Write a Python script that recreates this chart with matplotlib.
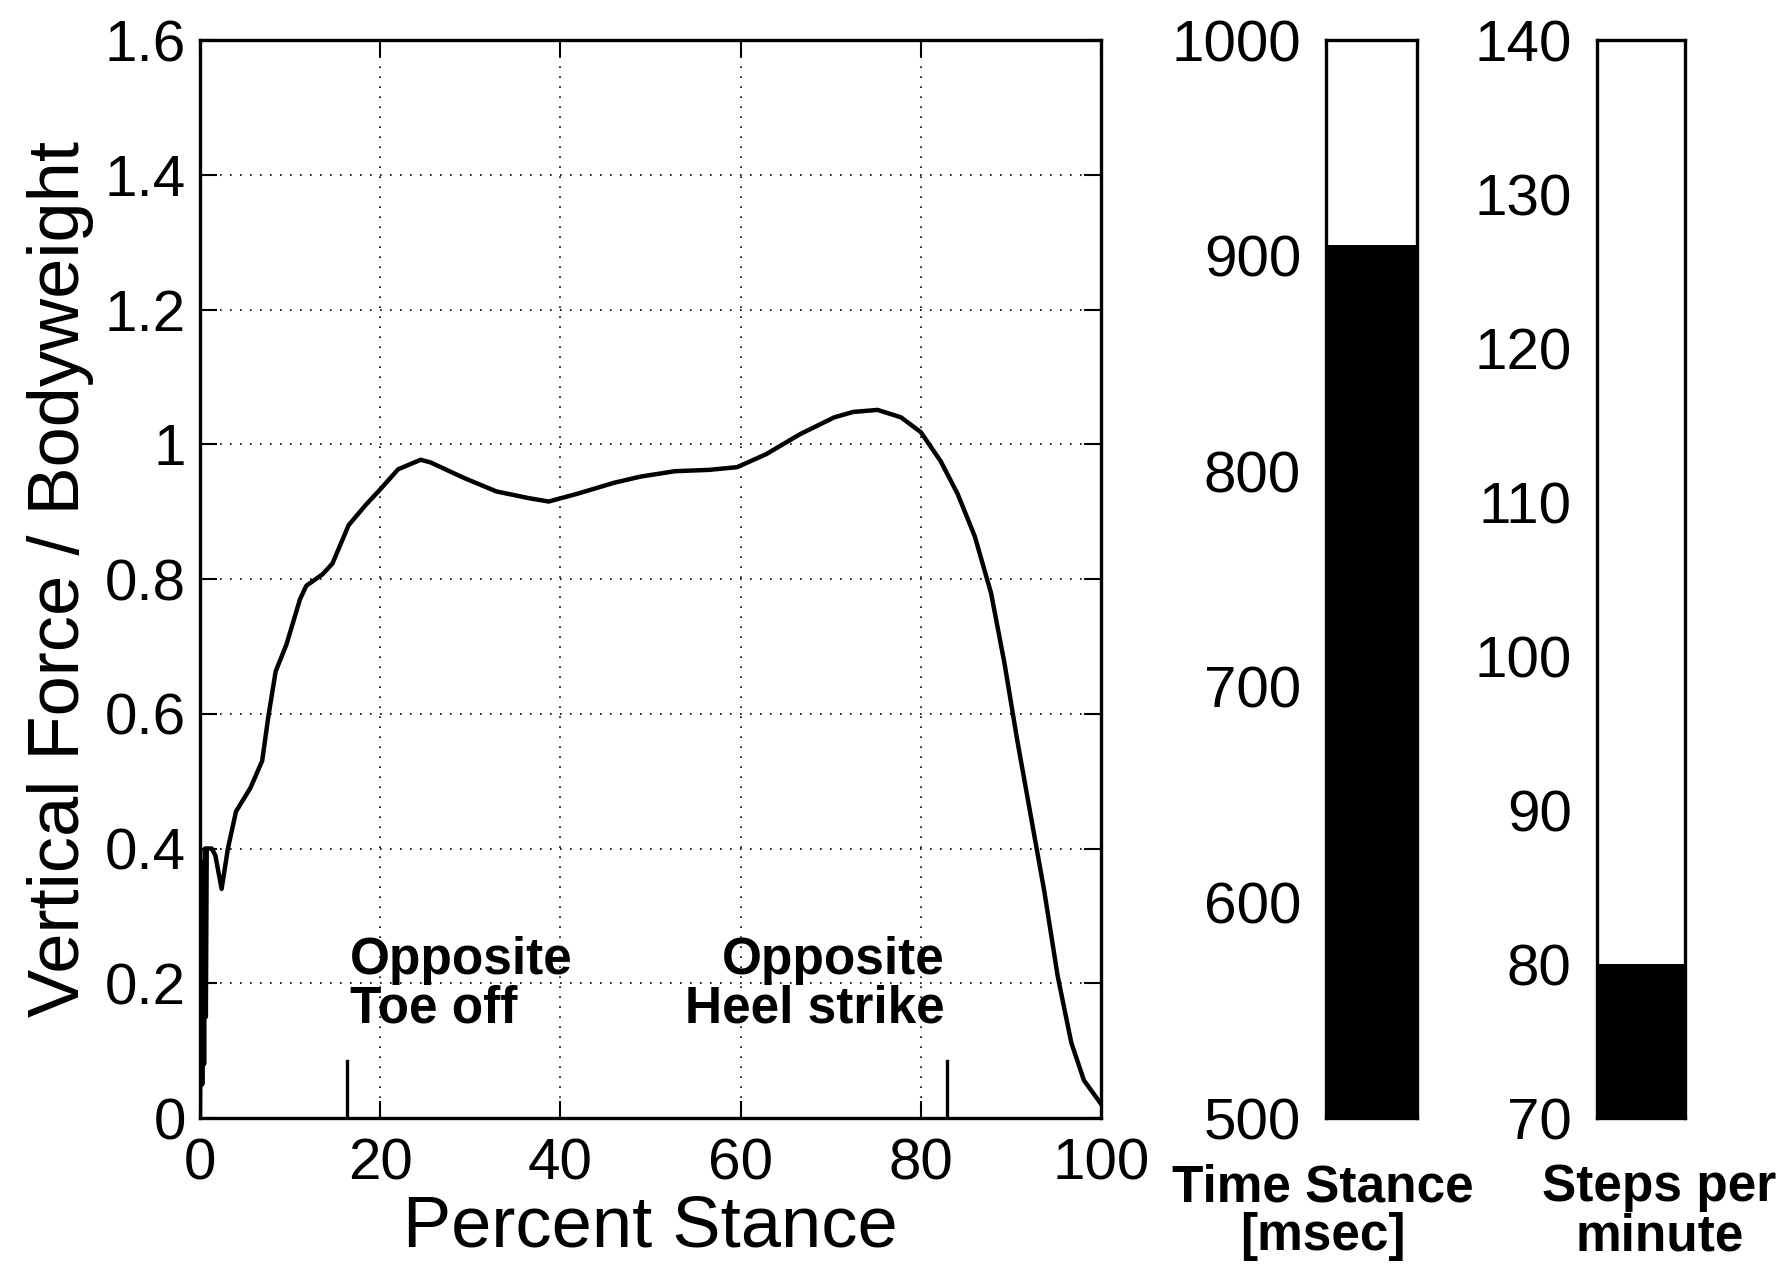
import matplotlib
matplotlib.use("Agg")
import matplotlib.pyplot as plt

plt.rcParams["font.family"] = ["Liberation Sans", "DejaVu Sans"]

# ── Data ──────────────────────────────────────────────────────────────────────
pct_stance = [0.0, 0.15, 0.25, 0.35, 0.45, 0.55, 0.65, 0.75, 0.9, 1.3, 1.7, 2.4,
              3.1, 4.0, 5.6, 6.9, 7.6, 8.4, 9.6, 11.1, 11.8, 13.6, 14.7, 16.5,
              18.4, 20.0, 22.0, 24.5, 25.6, 29.3, 32.9, 36.5, 38.7, 42.0, 46.0,
              48.9, 52.7, 56.5, 59.6, 62.8, 66.6, 70.4, 72.5, 75.2, 77.8, 80.0,
              82.2, 84.1, 86.0, 87.8, 89.3, 90.7, 92.2, 93.7, 95.2, 96.7, 98.1,
              100.0]
force_bw = [0.0, 0.30, 0.05, 0.38, 0.08, 0.40, 0.15, 0.40, 0.40, 0.40, 0.39, 0.34,
            0.40, 0.455, 0.49, 0.53, 0.597, 0.663, 0.703, 0.77, 0.79, 0.807, 0.823, 0.88,
            0.91, 0.933, 0.963, 0.977, 0.973, 0.95, 0.93, 0.92, 0.915, 0.927, 0.943,
            0.952, 0.96, 0.962, 0.966, 0.985, 1.015, 1.04, 1.048, 1.051, 1.04, 1.018,
            0.975, 0.926, 0.863, 0.779, 0.674, 0.561, 0.449, 0.337, 0.21, 0.112, 0.056,
            0.021]

event_pct = [16.3, 82.9]
event_labels = ["Opposite\nToe off", "Opposite\nHeel strike"]

time_stance_ms = 905
steps_per_min = 80

x_ticks = [0, 20, 40, 60, 80, 100]
y_ticks = [0, 0.2, 0.4, 0.6, 0.8, 1, 1.2, 1.4, 1.6]
y_ticklabels = ["0", "0.2", "0.4", "0.6", "0.8", "1", "1.2", "1.4", "1.6"]
time_ticks = [500, 600, 700, 800, 900, 1000]
steps_ticks = [70, 80, 90, 100, 110, 120, 130, 140]

TICK_FS = 42
LABEL_FS = 52
NOTE_FS = 37
GRID_STYLE = dict(color="black", linestyle=(0, (1, 5)), linewidth=1.2)

fig = plt.figure(figsize=(17.92, 12.83), dpi=100)

# ── Main force curve ──────────────────────────────────────────────────────────
ax = fig.add_axes([0.1116, 0.1286, 0.5028, 0.8402])
ax.plot(pct_stance, force_bw, color="black", linewidth=3.2)
for p in event_pct:
    ax.plot([p, p], [0, 0.085], color="black", linewidth=2.4)
ax.text(16.6, 0.125, event_labels[0], ha="left", va="bottom",
        fontsize=NOTE_FS, fontweight="bold", linespacing=1.0)
ax.text(82.6, 0.125, event_labels[1], ha="right", va="bottom",
        fontsize=NOTE_FS, fontweight="bold", linespacing=1.0, multialignment="right")

ax.set_xlim(0, 100)
ax.set_ylim(0, 1.6)
ax.set_xticks(x_ticks)
ax.set_yticks(y_ticks)
ax.set_yticklabels(y_ticklabels)
ax.grid(True, **GRID_STYLE)
ax.tick_params(direction="in", length=12, width=1.5, labelsize=TICK_FS,
               top=True, right=True)
ax.tick_params(axis="x", pad=14)
ax.tick_params(axis="y", pad=10)
ax.set_xlabel("Percent Stance", fontsize=LABEL_FS, labelpad=2)
ax.set_ylabel("Vertical Force / Bodyweight", fontsize=LABEL_FS, labelpad=8)
for s in ax.spines.values():
    s.set_linewidth(2.4)

# ── Bars ──────────────────────────────────────────────────────────────────────
def bar_axis(rect, value, ylim, ticks, label, label_x):
    bax = fig.add_axes(rect)
    bax.bar([0], [value], width=1.0, color="black")
    bax.set_xlim(-0.5, 0.5)
    bax.set_ylim(*ylim)
    bax.set_xticks([])
    bax.set_yticks(ticks)
    bax.tick_params(axis="y", length=0, labelsize=TICK_FS, pad=18)
    for s in bax.spines.values():
        s.set_linewidth(2.4)
    fig.text(label_x, 0.055, label, ha="center", va="center",
             fontsize=NOTE_FS, fontweight="bold", linespacing=1.0)
    return bax

bar_axis([0.740, 0.1286, 0.0508, 0.8402], time_stance_ms, (500, 1000),
         time_ticks, "Time Stance\n[msec]", 0.738)
bar_axis([0.891, 0.1286, 0.0491, 0.8402], steps_per_min, (70, 140),
         steps_ticks, "Steps per\nminute", 0.926)

fig.savefig("out.png", dpi=100, facecolor="white")
